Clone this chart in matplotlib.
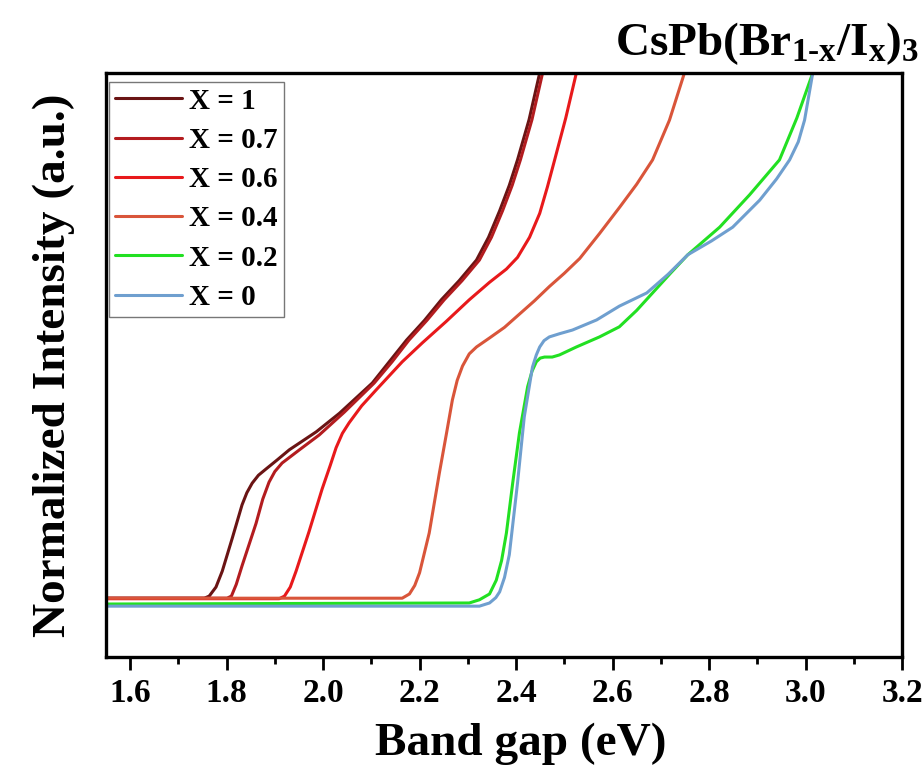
import matplotlib
matplotlib.use("Agg")
import matplotlib.pyplot as plt
from matplotlib.ticker import MultipleLocator

plt.rcParams['font.family'] = ['Liberation Serif', 'DejaVu Serif']
plt.rcParams['font.weight'] = 'bold'
plt.rcParams['mathtext.fontset'] = 'custom'
plt.rcParams['mathtext.rm'] = 'Liberation Serif:bold'
plt.rcParams['mathtext.it'] = 'Liberation Serif:bold'
plt.rcParams['mathtext.bf'] = 'Liberation Serif:bold'
plt.rcParams['mathtext.default'] = 'rm'

labels = ["X = 1", "X = 0.7", "X = 0.6", "X = 0.4", "X = 0.2", "X = 0"]
colors = ["#6a1414", "#b31c1f", "#e8191b", "#d9553a", "#22e022", "#6f9fcf"]

x_1 = [1.55, 1.754, 1.764, 1.778, 1.791, 1.812, 1.832, 1.842, 1.853, 1.866, 1.882,
       1.905, 1.930, 1.986, 2.034, 2.102, 2.137, 2.173, 2.210, 2.245, 2.282, 2.318,
       2.343, 2.366, 2.386, 2.403, 2.427, 2.449]
y_1 = [0.009, 0.009, 0.013, 0.030, 0.060, 0.123, 0.185, 0.208, 0.226, 0.241, 0.253,
       0.270, 0.289, 0.323, 0.358, 0.415, 0.455, 0.496, 0.533, 0.572, 0.608, 0.647,
       0.690, 0.740, 0.788, 0.836, 0.912, 1.0]

x_07 = [1.55, 1.801, 1.810, 1.820, 1.832, 1.861, 1.875, 1.888, 1.900, 1.915, 1.951,
        1.992, 2.044, 2.106, 2.143, 2.178, 2.215, 2.251, 2.288, 2.324, 2.349, 2.372,
        2.392, 2.409, 2.433, 2.455]
y_07 = [0.009, 0.009, 0.013, 0.035, 0.070, 0.150, 0.196, 0.228, 0.248, 0.264, 0.289,
        0.317, 0.360, 0.415, 0.455, 0.496, 0.533, 0.572, 0.608, 0.647, 0.690, 0.740,
        0.788, 0.836, 0.912, 1.0]

x_06 = [1.55, 1.909, 1.920, 1.932, 1.944, 1.971, 1.998, 2.015, 2.027, 2.040, 2.054,
        2.080, 2.110, 2.164, 2.206, 2.255, 2.303, 2.345, 2.380, 2.403, 2.428, 2.449,
        2.465, 2.480, 2.503, 2.525]
y_06 = [0.008, 0.008, 0.013, 0.030, 0.060, 0.135, 0.215, 0.260, 0.293, 0.320, 0.340,
        0.372, 0.402, 0.455, 0.491, 0.531, 0.572, 0.605, 0.630, 0.652, 0.690, 0.735,
        0.785, 0.836, 0.915, 1.0]

x_04 = [1.55, 2.164, 2.179, 2.190, 2.200, 2.220, 2.241, 2.256, 2.268, 2.278, 2.289,
        2.303, 2.318, 2.345, 2.376, 2.407, 2.438, 2.469, 2.500, 2.532, 2.573, 2.615,
        2.650, 2.683, 2.718, 2.749]
y_04 = [0.009, 0.009, 0.017, 0.033, 0.057, 0.132, 0.245, 0.321, 0.383, 0.420, 0.447,
        0.470, 0.483, 0.500, 0.520, 0.545, 0.570, 0.597, 0.622, 0.650, 0.697, 0.747,
        0.790, 0.836, 0.911, 1.0]

x_02 = [1.55, 2.303, 2.324, 2.345, 2.359, 2.370, 2.380, 2.393, 2.407, 2.424, 2.433,
        2.442, 2.450, 2.459, 2.475, 2.490, 2.525, 2.573, 2.614, 2.650, 2.683, 2.720,
        2.756, 2.822, 2.884, 2.946, 2.982, 3.015]
y_02 = [-0.002, 0.0, 0.006, 0.017, 0.043, 0.080, 0.132, 0.226, 0.321, 0.408, 0.437,
        0.455, 0.462, 0.464, 0.464, 0.468, 0.483, 0.502, 0.521, 0.552, 0.585, 0.622,
        0.657, 0.709, 0.770, 0.836, 0.915, 1.0]

x_0 = [1.55, 2.324, 2.345, 2.358, 2.366, 2.376, 2.386, 2.403, 2.417, 2.434, 2.442,
       2.449, 2.458, 2.469, 2.490, 2.517, 2.567, 2.614, 2.671, 2.715, 2.756, 2.805,
       2.849, 2.905, 2.940, 2.967, 2.985, 2.998, 3.015]
y_0 = [-0.006, -0.006, 0.0, 0.010, 0.021, 0.048, 0.091, 0.226, 0.351, 0.445, 0.468,
       0.483, 0.495, 0.502, 0.508, 0.515, 0.534, 0.560, 0.585, 0.620, 0.657, 0.683,
       0.709, 0.760, 0.800, 0.836, 0.870, 0.911, 1.0]

xs = [x_1, x_07, x_06, x_04, x_02, x_0]
ys = [y_1, y_07, y_06, y_04, y_02, y_0]

fig = plt.figure(figsize=(9.24, 7.82), dpi=100)
ax = fig.add_axes([0.1147, 0.1598, 0.8615, 0.7469])

for xv, yv, c, lab in zip(xs, ys, colors, labels):
    ax.plot(xv, yv, color=c, lw=2.2, label=lab, solid_joinstyle='round',
            solid_capstyle='round')

ax.set_xlim(1.55, 3.2)
ax.set_ylim(-0.102, 1.0)
ax.xaxis.set_minor_locator(MultipleLocator(0.1))
ax.set_xticks([1.6, 1.8, 2.0, 2.2, 2.4, 2.6, 2.8, 3.0, 3.2])
ax.set_xticklabels(["1.6", "1.8", "2.0", "2.2", "2.4", "2.6", "2.8", "3.0", "3.2"])
ax.set_yticks([])
ax.tick_params(axis='x', which='major', direction='out', length=9, width=2,
               labelsize=24, pad=6)
ax.tick_params(axis='x', which='minor', direction='out', length=5, width=2)
for s in ax.spines.values():
    s.set_linewidth(2.4)

ax.set_xlabel("Band gap (eV)", fontsize=34, fontweight='bold', labelpad=10, x=0.521)
ax.set_ylabel("Normalized Intensity (a.u.)", fontsize=34, fontweight='bold', labelpad=22)

fig.text(0.995, 0.93, r"CsPb(Br$_{1\text{-}x}$/I$_{x}$)$_{3}$", ha='right', va='baseline',
         fontsize=34, fontweight='bold')

leg = ax.legend(loc='upper left', bbox_to_anchor=(0.004, 0.985),
                frameon=True, fancybox=False, edgecolor='#555555',
                handlelength=2.3, handletextpad=0.25, labelspacing=0.42,
                borderpad=0.2, borderaxespad=0.0, prop={'weight': 'bold', 'size': 21})
leg.get_frame().set_linewidth(1.0)

fig.savefig("out.png", dpi=100)
